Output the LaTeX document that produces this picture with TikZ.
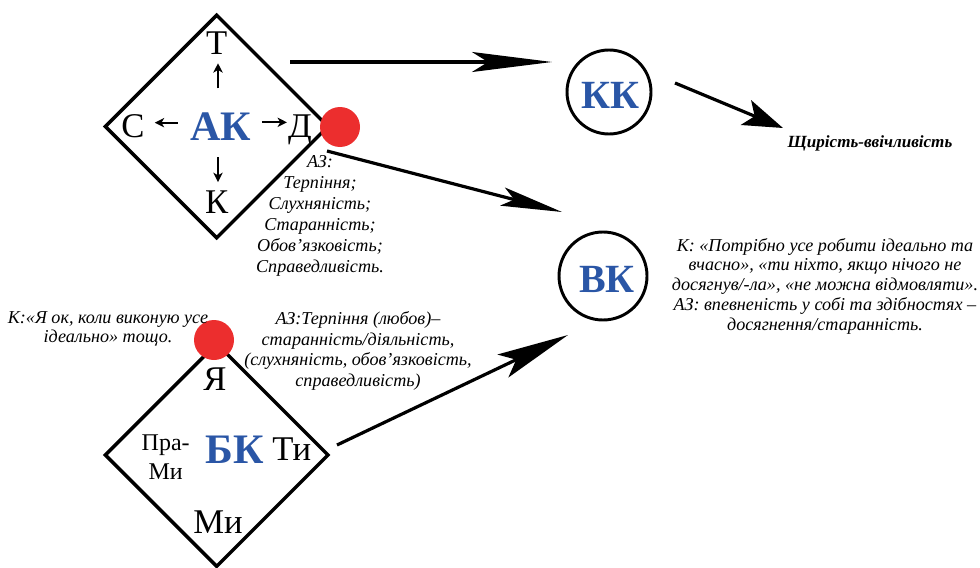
\documentclass[tikz,border=0pt]{standalone}
\usepackage{fontspec}
\setmainfont{Liberation Serif}
\usepackage{tikz}
\usetikzlibrary{positioning, arrows.meta, calc, shapes.geometric}
\definecolor{kblue}{HTML}{2A56A6}
\definecolor{kred}{HTML}{EC2E2E}

\begin{document}
\begin{tikzpicture}[x=0.75pt, y=-0.75pt,
    rhomb/.style={draw, line width=2.6pt, shape=diamond, minimum width=168pt, minimum height=168pt, inner sep=0pt},
    ring/.style={draw, circle, line width=2.2pt, minimum size=#1, inner sep=0pt},
    reddot/.style={circle, fill=kred, minimum size=30pt, inner sep=0pt},
    letter/.style={font=\fontsize{26}{28}\selectfont, inner sep=0pt, anchor=base},
    tinyarr/.style={line width=1.3pt, -{Stealth[length=7pt, width=7pt, inset=2pt]}},
    kname/.style={font=\fontsize{#1}{#1}\selectfont\bfseries, text=kblue, inner sep=0pt, anchor=base},
    note/.style={font=\fontsize{13.6}{#1}\selectfont\itshape, align=center, inner sep=0pt},
    arr/.style={line width=2.4pt}]
  \useasboundingbox (0,0) rectangle (980,567);

  % top rhomb: AK
  \node[rhomb] (akd) at (216.7,126.5) {};
  \node[letter] (t) at (216.7,55) {Т};
  \node[letter] (s) at (133,137) {С};
  \node[kname=31.5] (ak) at (221,140) {АК};
  \node[letter] (d) at (300,137) {Д};
  \node[letter] (k) at (216.7,213) {К};
  \draw[tinyarr] ($(t.south)+(1.3,33)$) -- ($(t.south)+(1.3,8)$);
  \draw[tinyarr] ($(s.east)+(33,-3)$) -- ($(s.east)+(10,-3)$);
  \draw[tinyarr] ($(d.west)+(-26,-7)$) -- ($(d.west)+(-1,-7)$);
  \draw[tinyarr] ($(k.north)+(1.3,-33)$) -- ($(k.north)+(1.3,-8)$);
  \node[reddot] (dota) at (340,127) {};
  \node[note=15.75] (aza) at (320,215.5) {АЗ:\\Терпіння;\\Слухняність;\\Старанність;\\Обов’язковість;\\Справедливість.};

  % bottom rhomb: BK
  \node[rhomb] (bkd) at (216.7,455) {};
  \node[letter] (ya) at (215,390) {Я};
  \node[font=\fontsize{18}{21.75}\selectfont, align=center, inner sep=0pt] (prami) at (165.7,457) {Пра-\\Ми};
  \node[kname=31.5] (bk) at (235,463) {БК};
  \node[letter] (ty) at (291.7,460) {Ти};
  \node[letter] (my) at (218,533) {Ми};
  \node[reddot] (dotb) at (214,340) {};
  \node[note=14.25] (kb) at (108,328.5) {К:«Я ок, коли виконую усе\\ідеально» тощо.};
  \node[note=15.5] (azb) at (358,351) {АЗ:Терпіння (любов)–\\старанність/діяльність,\\(слухняність, обов’язковість,\\справедливість)};

  % circles
  \node[ring=63pt] (kk) at (609,92) {};
  \node[kname=30] at (610,108) {КК};
  \node[ring=66pt] (vk) at (603,276) {};
  \node[kname=30] at (607,292) {ВК};
  \node[note=14.5, font=\fontsize{12.8}{14.5}\selectfont\bfseries\itshape] (shch) at (870,143) {Щирість-ввічливість};
  \node[note=14.8] (kv) at (825,286) {К: «Потрібно усе робити ідеально та\\вчасно», «ти ніхто, якщо нічого не\\досягнув/-ла», «не можна відмовляти».\\АЗ: впевненість у собі та здібностях –\\досягнення/старанність.};

  % connectors
  \coordinate (a1s) at (290,62);
  \coordinate (a1e) at (552,62);
  \coordinate (a2s) at (327,151);
  \coordinate (a2e) at (562,212);
  \coordinate (a3s) at (675,83);
  \coordinate (a3e) at (783,128);
  \coordinate (a4s) at (337,445);
  \coordinate (a4e) at (568,335);
  \draw[arr, -{Stealth[length=60pt, width=15pt, inset=12pt]}] (a1s) -- (a1e);
  \draw[arr, -{Stealth[length=46pt, width=14pt, inset=9pt]}] (a2s) -- (a2e);
  \draw[arr, -{Stealth[length=30pt, width=20pt, inset=7pt]}] (a3s) -- (a3e);
  \draw[arr, -{Stealth[length=54pt, width=19pt, inset=11pt]}] (a4s) -- (a4e);
\end{tikzpicture}
\end{document}
